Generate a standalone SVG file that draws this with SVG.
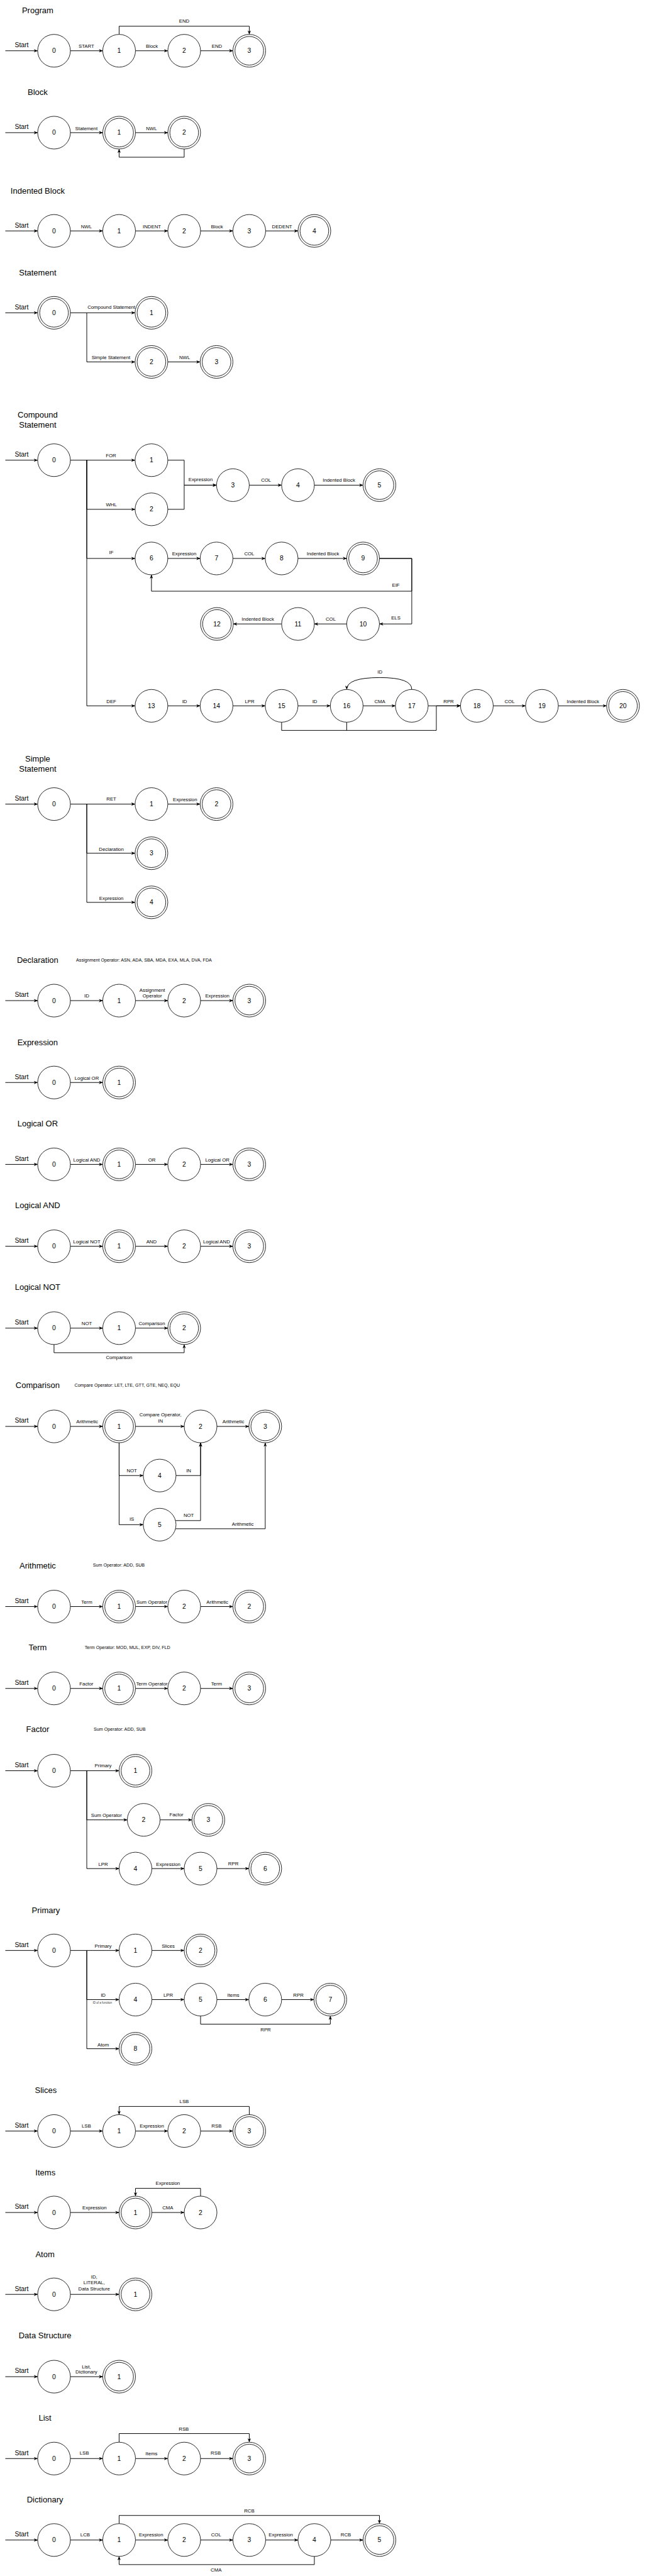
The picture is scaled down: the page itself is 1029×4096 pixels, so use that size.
<svg xmlns="http://www.w3.org/2000/svg" width="1029" height="4096" viewBox="0 0 1029 4096">
<defs>
<style>
text{font-family:"Liberation Sans",Arial,Helvetica,sans-serif;fill:#000;text-anchor:middle;dominant-baseline:central}
.t{font-size:20px}
.s{font-size:16px}
.num{font-size:16px}
.l{font-size:12px}
.note{font-size:11px;text-anchor:start}
.tiny{font-size:7px;fill:#333}
.n{fill:#fff;stroke:#000;stroke-width:1.3}
.in{fill:none;stroke:#000;stroke-width:1.3}
.e{fill:none;stroke:#000;stroke-width:1.5;marker-end:url(#a)}
.p{fill:none;stroke:#000;stroke-width:1.5}
</style>
<marker id="a" viewBox="0 0 10 8" refX="9.5" refY="4" markerWidth="10" markerHeight="8" markerUnits="userSpaceOnUse" orient="auto"><path d="M0,0 L10,4 L0,8 L3,4 Z" fill="#000"/></marker>
</defs>
<rect width="1029" height="4096" fill="#fff"/>
<g transform="scale(0.651)">

<!-- ===== Titles and notes ===== -->
<g id="titles">
<text class="t" x="92" y="25">Program</text>
<text class="t" x="92" y="225">Block</text>
<text class="t" x="92" y="466">Indented Block</text>
<text class="t" x="92" y="666">Statement</text>
<text class="t" x="92" y="1013">Compound</text>
<text class="t" x="92" y="1037">Statement</text>
<text class="t" x="92" y="1854">Simple</text>
<text class="t" x="92" y="1878">Statement</text>
<text class="t" x="92" y="2345">Declaration</text>
<text class="note" x="186" y="2345">Assignment Operator: ASN, ADA, SBA, MDA, EXA, MLA, DVA, FDA</text>
<text class="t" x="92" y="2546">Expression</text>
<text class="t" x="92" y="2745">Logical OR</text>
<text class="t" x="92" y="2944">Logical AND</text>
<text class="t" x="92" y="3144">Logical NOT</text>
<text class="t" x="92" y="3384">Comparison</text>
<text class="note" x="182" y="3384">Compare Operator: LET, LTE, GTT, GTE, NEQ, EQU</text>
<text class="t" x="92" y="3824">Arithmetic</text>
<text class="note" x="227" y="3824">Sum Operator: ADD, SUB</text>
<text class="t" x="92" y="4024">Term</text>
<text class="note" x="207" y="4024">Term Operator: MOD, MUL, EXP, DIV, FLD</text>
<text class="t" x="92" y="4224">Factor</text>
<text class="note" x="229" y="4224">Sum Operator: ADD, SUB</text>
<text class="t" x="112" y="4666">Primary</text>
<text class="t" x="112" y="5105">Slices</text>
<text class="t" x="111" y="5306">Items</text>
<text class="t" x="110" y="5506">Atom</text>
<text class="t" x="110" y="5705">Data Structure</text>
<text class="t" x="110" y="5905">List</text>
<text class="t" x="110" y="6105">Dictionary</text>
</g>

<!-- ===== Connectors ===== -->
<g id="connectors">
<!-- Program -->
<path class="e" d="M13,124 H92"/><text class="s" x="53" y="110">Start</text>
<path class="e" d="M172,124 H251"/><text class="l" x="211" y="113">START</text>
<path class="e" d="M331,124 H410"/><text class="l" x="371" y="113">Block</text>
<path class="e" d="M490,124 H569"/><text class="l" x="530" y="113">END</text>
<path class="e" d="M291,84 V64 H609 V84"/><text class="l" x="450" y="52">END</text>
<!-- Block -->
<path class="e" d="M13,324 H92"/><text class="s" x="53" y="310">Start</text>
<path class="e" d="M172,324 H251"/><text class="l" x="211" y="314">Statement</text>
<path class="e" d="M331,324 H410"/><text class="l" x="370" y="314">NWL</text>
<path class="e" d="M450,364 V384 H291 V364"/>
<!-- Indented Block -->
<path class="e" d="M13,564 H92"/><text class="s" x="53" y="550">Start</text>
<path class="e" d="M172,564 H251"/><text class="l" x="211" y="553">NWL</text>
<path class="e" d="M331,564 H410"/><text class="l" x="371" y="553">INDENT</text>
<path class="e" d="M490,564 H569"/><text class="l" x="530" y="553">Block</text>
<path class="e" d="M649,564 H728"/><text class="l" x="689" y="553">DEDENT</text>
<!-- Statement -->
<path class="e" d="M13,764 H92"/><text class="s" x="53" y="750">Start</text>
<path class="e" d="M172,764 H330"/><text class="l" x="272" y="751">Compound Statement</text>
<path class="e" d="M212,764 V884 H330"/><text class="l" x="271" y="874">Simple Statement</text>
<path class="e" d="M410,884 H489"/><text class="l" x="451" y="873">NWL</text>
<!-- Compound Statement -->
<path class="e" d="M13,1124 H92"/><text class="s" x="53" y="1110">Start</text>
<path class="e" d="M172,1124 H330"/><text class="l" x="271" y="1113">FOR</text>
<path class="e" d="M212,1124 V1244 H330"/><text class="l" x="272" y="1232">WHL</text>
<path class="e" d="M212,1124 V1364 H330"/><text class="l" x="272" y="1350">IF</text>
<path class="e" d="M212,1124 V1724 H330"/><text class="l" x="272" y="1713">DEF</text>
<path class="e" d="M410,1124 H450 V1185 H529"/>
<path class="e" d="M410,1244 H450 V1185 H529"/><text class="l" x="490" y="1172">Expression</text>
<path class="e" d="M609,1185 H688"/><text class="l" x="650" y="1173">COL</text>
<path class="e" d="M768,1185 H887"/><text class="l" x="828" y="1173">Indented Block</text>
<path class="e" d="M410,1364 H489"/><text class="l" x="450" y="1353">Expression</text>
<path class="e" d="M569,1364 H648"/><text class="l" x="609" y="1353">COL</text>
<path class="e" d="M728,1364 H847"/><text class="l" x="789" y="1353">Indented Block</text>
<path class="e" d="M927,1364 H1006 V1444 H370 V1404"/><text class="l" x="967" y="1429">EIF</text>
<path class="e" d="M927,1364 H1006 V1524 H927"/><text class="l" x="967" y="1509">ELS</text>
<path class="e" d="M847,1524 H768"/><text class="l" x="808" y="1512">COL</text>
<path class="e" d="M688,1524 H570"/><text class="l" x="630" y="1512">Indented Block</text>
<path class="e" d="M410,1724 H489"/><text class="l" x="451" y="1713">ID</text>
<path class="e" d="M569,1724 H648"/><text class="l" x="610" y="1713">LPR</text>
<path class="e" d="M728,1724 H807"/><text class="l" x="769" y="1713">ID</text>
<path class="e" d="M887,1724 H966"/><text class="l" x="928" y="1713">CMA</text>
<path class="e" d="M1046,1724 H1125"/><text class="l" x="1096" y="1713">RPR</text>
<path class="e" d="M1205,1724 H1284"/><text class="l" x="1245" y="1713">COL</text>
<path class="e" d="M1364,1724 H1482"/><text class="l" x="1424" y="1713">Indented Block</text>
<path class="e" d="M1006,1684 Q1006,1655 928,1655 Q847,1655 847,1684"/><text class="l" x="928" y="1642">ID</text>
<path class="e" d="M688,1764 V1784 H1066 V1724 H1125"/>
<path class="p" d="M847,1764 V1784"/>
<!-- Simple Statement -->
<path class="e" d="M13,1964 H92"/><text class="s" x="53" y="1950">Start</text>
<path class="e" d="M172,1964 H330"/><text class="l" x="272" y="1951">RET</text>
<path class="e" d="M410,1964 H489"/><text class="l" x="452" y="1953">Expression</text>
<path class="e" d="M212,1964 V2084 H330"/><text class="l" x="272" y="2075">Declaration</text>
<path class="e" d="M212,1964 V2204 H330"/><text class="l" x="272" y="2195">Expression</text>
<!-- Declaration -->
<path class="e" d="M13,2444 H92"/><text class="s" x="53" y="2430">Start</text>
<path class="e" d="M172,2444 H251"/><text class="l" x="212" y="2433">ID</text>
<path class="e" d="M331,2444 H410"/><text class="l" x="372" y="2419">Assignment</text><text class="l" x="372" y="2433">Operator</text>
<path class="e" d="M490,2444 H569"/><text class="l" x="531" y="2433">Expression</text>
<!-- Expression -->
<path class="e" d="M13,2644 H92"/><text class="s" x="53" y="2630">Start</text>
<path class="e" d="M172,2644 H251"/><text class="l" x="212" y="2633">Logical OR</text>
<!-- Logical OR -->
<path class="e" d="M13,2844 H92"/><text class="s" x="53" y="2830">Start</text>
<path class="e" d="M172,2844 H251"/><text class="l" x="212" y="2833">Logical AND</text>
<path class="e" d="M331,2844 H410"/><text class="l" x="371" y="2833">OR</text>
<path class="e" d="M490,2844 H569"/><text class="l" x="531" y="2833">Logical OR</text>
<!-- Logical AND -->
<path class="e" d="M13,3044 H92"/><text class="s" x="53" y="3030">Start</text>
<path class="e" d="M172,3044 H251"/><text class="l" x="212" y="3033">Logical NOT</text>
<path class="e" d="M331,3044 H410"/><text class="l" x="370" y="3033">AND</text>
<path class="e" d="M490,3044 H569"/><text class="l" x="529" y="3033">Logical AND</text>
<!-- Logical NOT -->
<path class="e" d="M13,3244 H92"/><text class="s" x="53" y="3230">Start</text>
<path class="e" d="M172,3244 H251"/><text class="l" x="212" y="3233">NOT</text>
<path class="e" d="M331,3244 H410"/><text class="l" x="371" y="3233">Comparison</text>
<path class="e" d="M132,3284 V3304 H450 V3284"/><text class="l" x="291" y="3316">Comparison</text>
<!-- Comparison -->
<path class="e" d="M13,3484 H92"/><text class="s" x="53" y="3470">Start</text>
<path class="e" d="M172,3484 H251"/><text class="l" x="213" y="3472">Arithmetic</text>
<path class="e" d="M331,3484 H450"/><text class="l" x="392" y="3456">Compare Operator,</text><text class="l" x="392" y="3471">IN</text>
<path class="e" d="M530,3484 H608"/><text class="l" x="570" y="3472">Arithmetic</text>
<path class="e" d="M291,3524 V3604 H350"/><text class="l" x="322" y="3592">NOT</text>
<path class="e" d="M291,3524 V3724 H350"/><text class="l" x="322" y="3711">IS</text>
<path class="e" d="M430,3604 H490 V3524"/><text class="l" x="461" y="3592">IN</text>
<path class="e" d="M429,3714 H490 V3524"/><text class="l" x="461" y="3701">NOT</text>
<path class="e" d="M429,3734 H648 V3524"/><text class="l" x="593" y="3723">Arithmetic</text>
<!-- Arithmetic -->
<path class="e" d="M13,3924 H92"/><text class="s" x="53" y="3910">Start</text>
<path class="e" d="M172,3924 H251"/><text class="l" x="212" y="3913">Term</text>
<path class="e" d="M331,3924 H410"/><text class="l" x="371" y="3913">Sum Operator</text>
<path class="e" d="M490,3924 H569"/><text class="l" x="531" y="3913">Arithmetic</text>
<!-- Term -->
<path class="e" d="M13,4124 H92"/><text class="s" x="53" y="4110">Start</text>
<path class="e" d="M172,4124 H251"/><text class="l" x="211" y="4113">Factor</text>
<path class="e" d="M331,4124 H410"/><text class="l" x="371" y="4113">Term Operator</text>
<path class="e" d="M490,4124 H569"/><text class="l" x="529" y="4113">Term</text>
<!-- Factor -->
<path class="e" d="M13,4325 H92"/><text class="s" x="53" y="4311">Start</text>
<path class="e" d="M172,4325 H291"/><text class="l" x="252" y="4313">Primary</text>
<path class="e" d="M212,4325 V4445 H311"/><text class="l" x="260" y="4434">Sum Operator</text>
<path class="e" d="M391,4445 H469"/><text class="l" x="431" y="4433">Factor</text>
<path class="e" d="M212,4325 V4564 H291"/><text class="l" x="252" y="4553">LPR</text>
<path class="e" d="M371,4564 H450"/><text class="l" x="411" y="4553">Expression</text>
<path class="e" d="M530,4564 H608"/><text class="l" x="570" y="4552">RPR</text>
<!-- Primary -->
<path class="e" d="M13,4764 H92"/><text class="s" x="53" y="4750">Start</text>
<path class="e" d="M172,4764 H291"/><text class="l" x="252" y="4754">Primary</text>
<path class="e" d="M371,4764 H450"/><text class="l" x="411" y="4753">Slices</text>
<path class="e" d="M212,4764 V4884 H291"/><text class="l" x="252" y="4873">ID</text><text class="tiny" x="250" y="4891">ID of a function</text>
<path class="e" d="M371,4884 H450"/><text class="l" x="411" y="4873">LPR</text>
<path class="e" d="M530,4884 H608"/><text class="l" x="570" y="4873">Items</text>
<path class="e" d="M688,4884 H767"/><text class="l" x="729" y="4873">RPR</text>
<path class="e" d="M490,4924 V4944 H807 V4924"/><text class="l" x="649" y="4957">RPR</text>
<path class="e" d="M212,4764 V5004 H291"/><text class="l" x="252" y="4994">Atom</text>
<!-- Slices -->
<path class="e" d="M13,5205 H92"/><text class="s" x="53" y="5191">Start</text>
<path class="e" d="M172,5205 H251"/><text class="l" x="211" y="5193">LSB</text>
<path class="e" d="M331,5205 H410"/><text class="l" x="371" y="5193">Expression</text>
<path class="e" d="M490,5205 H569"/><text class="l" x="529" y="5193">RSB</text>
<path class="e" d="M609,5165 V5145 H291 V5165"/><text class="l" x="450" y="5133">LSB</text>
<!-- Items -->
<path class="e" d="M13,5404 H92"/><text class="s" x="53" y="5390">Start</text>
<path class="e" d="M172,5404 H291"/><text class="l" x="231" y="5393">Expression</text>
<path class="e" d="M371,5404 H450"/><text class="l" x="410" y="5393">CMA</text>
<path class="e" d="M490,5364 V5345 H331 V5364"/><text class="l" x="410" y="5333">Expression</text>
<!-- Atom -->
<path class="e" d="M13,5604 H92"/><text class="s" x="53" y="5590">Start</text>
<path class="e" d="M172,5604 H291"/><text class="l" x="230" y="5561">ID,</text><text class="l" x="230" y="5575">LITERAL,</text><text class="l" x="230" y="5590">Data Structure</text>
<!-- Data Structure -->
<path class="e" d="M13,5805 H92"/><text class="s" x="53" y="5791">Start</text>
<path class="e" d="M172,5805 H251"/><text class="l" x="211" y="5781">List,</text><text class="l" x="211" y="5794">Dictionary</text>
<!-- List -->
<path class="e" d="M13,6005 H92"/><text class="s" x="53" y="5991">Start</text>
<path class="e" d="M172,6005 H251"/><text class="l" x="206" y="5991">LSB</text>
<path class="e" d="M331,6005 H410"/><text class="l" x="370" y="5993">Items</text>
<path class="e" d="M490,6005 H569"/><text class="l" x="527" y="5991">RSB</text>
<path class="e" d="M291,5965 V5944 H609 V5965"/><text class="l" x="449" y="5933">RSB</text>
<!-- Dictionary -->
<path class="e" d="M13,6204 H92"/><text class="s" x="53" y="6190">Start</text>
<path class="e" d="M172,6204 H251"/><text class="l" x="208" y="6192">LCB</text>
<path class="e" d="M331,6204 H410"/><text class="l" x="369" y="6192">Expression</text>
<path class="e" d="M490,6204 H569"/><text class="l" x="528" y="6192">COL</text>
<path class="e" d="M649,6204 H728"/><text class="l" x="686" y="6192">Expression</text>
<path class="e" d="M808,6204 H887"/><text class="l" x="845" y="6192">RCB</text>
<path class="e" d="M291,6164 V6144 H927 V6164"/><text class="l" x="609" y="6133">RCB</text>
<path class="e" d="M768,6244 V6264 H291 V6244"/><text class="l" x="528" y="6277">CMA</text>
</g>

<!-- ===== Nodes ===== -->
<g id="program">
<g id="prog-0"><circle class="n" cx="132" cy="124" r="40"/><text class="num" x="132" y="124">0</text></g>
<g id="prog-1"><circle class="n" cx="291" cy="124" r="40"/><text class="num" x="291" y="124">1</text></g>
<g id="prog-2"><circle class="n" cx="450" cy="124" r="40"/><text class="num" x="450" y="124">2</text></g>
<g id="prog-3"><circle class="n" cx="609" cy="124" r="40"/><circle class="in" cx="609" cy="124" r="35"/><text class="num" x="609" y="124">3</text></g>
</g>
<g id="block">
<g id="blk-0"><circle class="n" cx="132" cy="324" r="40"/><text class="num" x="132" y="324">0</text></g>
<g id="blk-1"><circle class="n" cx="291" cy="324" r="40"/><circle class="in" cx="291" cy="324" r="35"/><text class="num" x="291" y="324">1</text></g>
<g id="blk-2"><circle class="n" cx="450" cy="324" r="40"/><circle class="in" cx="450" cy="324" r="35"/><text class="num" x="450" y="324">2</text></g>
</g>
<g id="indented">
<g id="ind-0"><circle class="n" cx="132" cy="564" r="40"/><text class="num" x="132" y="564">0</text></g>
<g id="ind-1"><circle class="n" cx="291" cy="564" r="40"/><text class="num" x="291" y="564">1</text></g>
<g id="ind-2"><circle class="n" cx="450" cy="564" r="40"/><text class="num" x="450" y="564">2</text></g>
<g id="ind-3"><circle class="n" cx="609" cy="564" r="40"/><text class="num" x="609" y="564">3</text></g>
<g id="ind-4"><circle class="n" cx="768" cy="564" r="40"/><circle class="in" cx="768" cy="564" r="35"/><text class="num" x="768" y="564">4</text></g>
</g>
<g id="statement">
<g id="st-0"><circle class="n" cx="132" cy="764" r="40"/><circle class="in" cx="132" cy="764" r="35"/><text class="num" x="132" y="764">0</text></g>
<g id="st-1"><circle class="n" cx="370" cy="764" r="40"/><circle class="in" cx="370" cy="764" r="35"/><text class="num" x="370" y="764">1</text></g>
<g id="st-2"><circle class="n" cx="370" cy="884" r="40"/><circle class="in" cx="370" cy="884" r="35"/><text class="num" x="370" y="884">2</text></g>
<g id="st-3"><circle class="n" cx="529" cy="884" r="40"/><circle class="in" cx="529" cy="884" r="35"/><text class="num" x="529" y="884">3</text></g>
</g>
<g id="compound">
<g id="cs-0"><circle class="n" cx="132" cy="1124" r="40"/><text class="num" x="132" y="1124">0</text></g>
<g id="cs-1"><circle class="n" cx="370" cy="1124" r="40"/><text class="num" x="370" y="1124">1</text></g>
<g id="cs-2"><circle class="n" cx="370" cy="1244" r="40"/><text class="num" x="370" y="1244">2</text></g>
<g id="cs-3"><circle class="n" cx="569" cy="1185" r="40"/><text class="num" x="569" y="1185">3</text></g>
<g id="cs-4"><circle class="n" cx="728" cy="1185" r="40"/><text class="num" x="728" y="1185">4</text></g>
<g id="cs-5"><circle class="n" cx="927" cy="1185" r="40"/><circle class="in" cx="927" cy="1185" r="35"/><text class="num" x="927" y="1185">5</text></g>
<g id="cs-6"><circle class="n" cx="370" cy="1364" r="40"/><text class="num" x="370" y="1364">6</text></g>
<g id="cs-7"><circle class="n" cx="529" cy="1364" r="40"/><text class="num" x="529" y="1364">7</text></g>
<g id="cs-8"><circle class="n" cx="688" cy="1364" r="40"/><text class="num" x="688" y="1364">8</text></g>
<g id="cs-9"><circle class="n" cx="887" cy="1364" r="40"/><circle class="in" cx="887" cy="1364" r="35"/><text class="num" x="887" y="1364">9</text></g>
<g id="cs-10"><circle class="n" cx="887" cy="1524" r="40"/><text class="num" x="887" y="1524">10</text></g>
<g id="cs-11"><circle class="n" cx="728" cy="1524" r="40"/><text class="num" x="728" y="1524">11</text></g>
<g id="cs-12"><circle class="n" cx="530" cy="1524" r="40"/><circle class="in" cx="530" cy="1524" r="35"/><text class="num" x="530" y="1524">12</text></g>
<g id="cs-13"><circle class="n" cx="370" cy="1724" r="40"/><text class="num" x="370" y="1724">13</text></g>
<g id="cs-14"><circle class="n" cx="529" cy="1724" r="40"/><text class="num" x="529" y="1724">14</text></g>
<g id="cs-15"><circle class="n" cx="688" cy="1724" r="40"/><text class="num" x="688" y="1724">15</text></g>
<g id="cs-16"><circle class="n" cx="847" cy="1724" r="40"/><text class="num" x="847" y="1724">16</text></g>
<g id="cs-17"><circle class="n" cx="1006" cy="1724" r="40"/><text class="num" x="1006" y="1724">17</text></g>
<g id="cs-18"><circle class="n" cx="1165" cy="1724" r="40"/><text class="num" x="1165" y="1724">18</text></g>
<g id="cs-19"><circle class="n" cx="1324" cy="1724" r="40"/><text class="num" x="1324" y="1724">19</text></g>
<g id="cs-20"><circle class="n" cx="1522" cy="1724" r="40"/><circle class="in" cx="1522" cy="1724" r="35"/><text class="num" x="1522" y="1724">20</text></g>
</g>
<g id="simple">
<g id="ss-0"><circle class="n" cx="132" cy="1964" r="40"/><text class="num" x="132" y="1964">0</text></g>
<g id="ss-1"><circle class="n" cx="370" cy="1964" r="40"/><text class="num" x="370" y="1964">1</text></g>
<g id="ss-2"><circle class="n" cx="529" cy="1964" r="40"/><circle class="in" cx="529" cy="1964" r="35"/><text class="num" x="529" y="1964">2</text></g>
<g id="ss-3"><circle class="n" cx="370" cy="2084" r="40"/><circle class="in" cx="370" cy="2084" r="35"/><text class="num" x="370" y="2084">3</text></g>
<g id="ss-4"><circle class="n" cx="370" cy="2204" r="40"/><circle class="in" cx="370" cy="2204" r="35"/><text class="num" x="370" y="2204">4</text></g>
</g>
<g id="declaration">
<g id="dc-0"><circle class="n" cx="132" cy="2444" r="40"/><text class="num" x="132" y="2444">0</text></g>
<g id="dc-1"><circle class="n" cx="291" cy="2444" r="40"/><text class="num" x="291" y="2444">1</text></g>
<g id="dc-2"><circle class="n" cx="450" cy="2444" r="40"/><text class="num" x="450" y="2444">2</text></g>
<g id="dc-3"><circle class="n" cx="609" cy="2444" r="40"/><circle class="in" cx="609" cy="2444" r="35"/><text class="num" x="609" y="2444">3</text></g>
</g>
<g id="expression">
<g id="ex-0"><circle class="n" cx="132" cy="2644" r="40"/><text class="num" x="132" y="2644">0</text></g>
<g id="ex-1"><circle class="n" cx="291" cy="2644" r="40"/><circle class="in" cx="291" cy="2644" r="35"/><text class="num" x="291" y="2644">1</text></g>
</g>
<g id="logical-or">
<g id="lo-0"><circle class="n" cx="132" cy="2844" r="40"/><text class="num" x="132" y="2844">0</text></g>
<g id="lo-1"><circle class="n" cx="291" cy="2844" r="40"/><circle class="in" cx="291" cy="2844" r="35"/><text class="num" x="291" y="2844">1</text></g>
<g id="lo-2"><circle class="n" cx="450" cy="2844" r="40"/><text class="num" x="450" y="2844">2</text></g>
<g id="lo-3"><circle class="n" cx="609" cy="2844" r="40"/><circle class="in" cx="609" cy="2844" r="35"/><text class="num" x="609" y="2844">3</text></g>
</g>
<g id="logical-and">
<g id="la-0"><circle class="n" cx="132" cy="3044" r="40"/><text class="num" x="132" y="3044">0</text></g>
<g id="la-1"><circle class="n" cx="291" cy="3044" r="40"/><circle class="in" cx="291" cy="3044" r="35"/><text class="num" x="291" y="3044">1</text></g>
<g id="la-2"><circle class="n" cx="450" cy="3044" r="40"/><text class="num" x="450" y="3044">2</text></g>
<g id="la-3"><circle class="n" cx="609" cy="3044" r="40"/><circle class="in" cx="609" cy="3044" r="35"/><text class="num" x="609" y="3044">3</text></g>
</g>
<g id="logical-not">
<g id="ln-0"><circle class="n" cx="132" cy="3244" r="40"/><text class="num" x="132" y="3244">0</text></g>
<g id="ln-1"><circle class="n" cx="291" cy="3244" r="40"/><text class="num" x="291" y="3244">1</text></g>
<g id="ln-2"><circle class="n" cx="450" cy="3244" r="40"/><circle class="in" cx="450" cy="3244" r="35"/><text class="num" x="450" y="3244">2</text></g>
</g>
<g id="comparison">
<g id="cp-0"><circle class="n" cx="132" cy="3484" r="40"/><text class="num" x="132" y="3484">0</text></g>
<g id="cp-1"><circle class="n" cx="291" cy="3484" r="40"/><circle class="in" cx="291" cy="3484" r="35"/><text class="num" x="291" y="3484">1</text></g>
<g id="cp-2"><circle class="n" cx="490" cy="3484" r="40"/><text class="num" x="490" y="3484">2</text></g>
<g id="cp-3"><circle class="n" cx="648" cy="3484" r="40"/><circle class="in" cx="648" cy="3484" r="35"/><text class="num" x="648" y="3484">3</text></g>
<g id="cp-4"><circle class="n" cx="390" cy="3604" r="40"/><text class="num" x="390" y="3604">4</text></g>
<g id="cp-5"><circle class="n" cx="390" cy="3724" r="40"/><text class="num" x="390" y="3724">5</text></g>
</g>
<g id="arithmetic">
<g id="ar-0"><circle class="n" cx="132" cy="3924" r="40"/><text class="num" x="132" y="3924">0</text></g>
<g id="ar-1"><circle class="n" cx="291" cy="3924" r="40"/><circle class="in" cx="291" cy="3924" r="35"/><text class="num" x="291" y="3924">1</text></g>
<g id="ar-2"><circle class="n" cx="450" cy="3924" r="40"/><text class="num" x="450" y="3924">2</text></g>
<g id="ar-3"><circle class="n" cx="609" cy="3924" r="40"/><circle class="in" cx="609" cy="3924" r="35"/><text class="num" x="609" y="3924">2</text></g>
</g>
<g id="term">
<g id="tm-0"><circle class="n" cx="132" cy="4124" r="40"/><text class="num" x="132" y="4124">0</text></g>
<g id="tm-1"><circle class="n" cx="291" cy="4124" r="40"/><circle class="in" cx="291" cy="4124" r="35"/><text class="num" x="291" y="4124">1</text></g>
<g id="tm-2"><circle class="n" cx="450" cy="4124" r="40"/><text class="num" x="450" y="4124">2</text></g>
<g id="tm-3"><circle class="n" cx="609" cy="4124" r="40"/><circle class="in" cx="609" cy="4124" r="35"/><text class="num" x="609" y="4124">3</text></g>
</g>
<g id="factor">
<g id="fc-0"><circle class="n" cx="132" cy="4325" r="40"/><text class="num" x="132" y="4325">0</text></g>
<g id="fc-1"><circle class="n" cx="331" cy="4325" r="40"/><circle class="in" cx="331" cy="4325" r="35"/><text class="num" x="331" y="4325">1</text></g>
<g id="fc-2"><circle class="n" cx="351" cy="4445" r="40"/><text class="num" x="351" y="4445">2</text></g>
<g id="fc-3"><circle class="n" cx="509" cy="4445" r="40"/><circle class="in" cx="509" cy="4445" r="35"/><text class="num" x="509" y="4445">3</text></g>
<g id="fc-4"><circle class="n" cx="331" cy="4564" r="40"/><text class="num" x="331" y="4564">4</text></g>
<g id="fc-5"><circle class="n" cx="490" cy="4564" r="40"/><text class="num" x="490" y="4564">5</text></g>
<g id="fc-6"><circle class="n" cx="648" cy="4564" r="40"/><circle class="in" cx="648" cy="4564" r="35"/><text class="num" x="648" y="4564">6</text></g>
</g>
<g id="primary">
<g id="pr-0"><circle class="n" cx="132" cy="4764" r="40"/><text class="num" x="132" y="4764">0</text></g>
<g id="pr-1"><circle class="n" cx="331" cy="4764" r="40"/><text class="num" x="331" y="4764">1</text></g>
<g id="pr-2"><circle class="n" cx="490" cy="4764" r="40"/><circle class="in" cx="490" cy="4764" r="35"/><text class="num" x="490" y="4764">2</text></g>
<g id="pr-4"><circle class="n" cx="331" cy="4884" r="40"/><text class="num" x="331" y="4884">4</text></g>
<g id="pr-5"><circle class="n" cx="490" cy="4884" r="40"/><text class="num" x="490" y="4884">5</text></g>
<g id="pr-6"><circle class="n" cx="648" cy="4884" r="40"/><text class="num" x="648" y="4884">6</text></g>
<g id="pr-7"><circle class="n" cx="807" cy="4884" r="40"/><circle class="in" cx="807" cy="4884" r="35"/><text class="num" x="807" y="4884">7</text></g>
<g id="pr-8"><circle class="n" cx="331" cy="5004" r="40"/><circle class="in" cx="331" cy="5004" r="35"/><text class="num" x="331" y="5004">8</text></g>
</g>
<g id="slices">
<g id="sl-0"><circle class="n" cx="132" cy="5205" r="40"/><text class="num" x="132" y="5205">0</text></g>
<g id="sl-1"><circle class="n" cx="291" cy="5205" r="40"/><text class="num" x="291" y="5205">1</text></g>
<g id="sl-2"><circle class="n" cx="450" cy="5205" r="40"/><text class="num" x="450" y="5205">2</text></g>
<g id="sl-3"><circle class="n" cx="609" cy="5205" r="40"/><circle class="in" cx="609" cy="5205" r="35"/><text class="num" x="609" y="5205">3</text></g>
</g>
<g id="items">
<g id="it-0"><circle class="n" cx="132" cy="5404" r="40"/><text class="num" x="132" y="5404">0</text></g>
<g id="it-1"><circle class="n" cx="331" cy="5404" r="40"/><circle class="in" cx="331" cy="5404" r="35"/><text class="num" x="331" y="5404">1</text></g>
<g id="it-2"><circle class="n" cx="490" cy="5404" r="40"/><text class="num" x="490" y="5404">2</text></g>
</g>
<g id="atom">
<g id="at-0"><circle class="n" cx="132" cy="5604" r="40"/><text class="num" x="132" y="5604">0</text></g>
<g id="at-1"><circle class="n" cx="331" cy="5604" r="40"/><circle class="in" cx="331" cy="5604" r="35"/><text class="num" x="331" y="5604">1</text></g>
</g>
<g id="data-structure">
<g id="ds-0"><circle class="n" cx="132" cy="5805" r="40"/><text class="num" x="132" y="5805">0</text></g>
<g id="ds-1"><circle class="n" cx="291" cy="5805" r="40"/><circle class="in" cx="291" cy="5805" r="35"/><text class="num" x="291" y="5805">1</text></g>
</g>
<g id="list">
<g id="li-0"><circle class="n" cx="132" cy="6005" r="40"/><text class="num" x="132" y="6005">0</text></g>
<g id="li-1"><circle class="n" cx="291" cy="6005" r="40"/><text class="num" x="291" y="6005">1</text></g>
<g id="li-2"><circle class="n" cx="450" cy="6005" r="40"/><text class="num" x="450" y="6005">2</text></g>
<g id="li-3"><circle class="n" cx="609" cy="6005" r="40"/><circle class="in" cx="609" cy="6005" r="35"/><text class="num" x="609" y="6005">3</text></g>
</g>
<g id="dictionary">
<g id="di-0"><circle class="n" cx="132" cy="6204" r="40"/><text class="num" x="132" y="6204">0</text></g>
<g id="di-1"><circle class="n" cx="291" cy="6204" r="40"/><text class="num" x="291" y="6204">1</text></g>
<g id="di-2"><circle class="n" cx="450" cy="6204" r="40"/><text class="num" x="450" y="6204">2</text></g>
<g id="di-3"><circle class="n" cx="609" cy="6204" r="40"/><text class="num" x="609" y="6204">3</text></g>
<g id="di-4"><circle class="n" cx="768" cy="6204" r="40"/><text class="num" x="768" y="6204">4</text></g>
<g id="di-5"><circle class="n" cx="927" cy="6204" r="40"/><circle class="in" cx="927" cy="6204" r="35"/><text class="num" x="927" y="6204">5</text></g>
</g>
</g>
</svg>
